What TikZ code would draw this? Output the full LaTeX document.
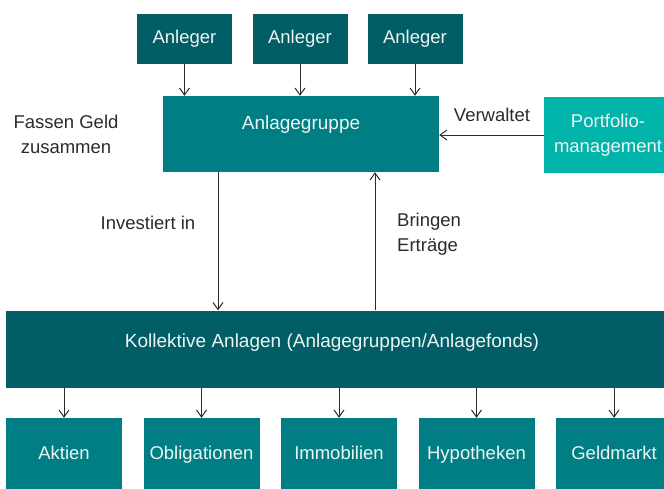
\documentclass[tikz,border=0pt]{standalone}
\usepackage{fontspec}
\setmainfont{Liberation Sans}
\usepackage{xcolor}
\usepackage{tikz}
\usetikzlibrary{calc,arrows.meta}
\definecolor{dark}{HTML}{015D66}
\definecolor{mid}{HTML}{017E83}
\definecolor{lite}{HTML}{00B4A9}
\definecolor{ink}{HTML}{2B2B2B}
\definecolor{wtxt}{HTML}{EDF5F5}
\tikzset{
  box/.style={inner sep=0pt, text=wtxt, font=\fontsize{18.5}{25}\selectfont, align=center},
  darkbox/.style={box, fill=dark},
  midbox/.style={box, fill=mid},
  litebox/.style={box, fill=lite},
  arr/.style={draw=ink, line width=1pt, -{Straight Barb[length=7pt,width=10pt]}},
  lab/.style={text=ink, font=\fontsize{18.5}{25}\selectfont, inner sep=0pt},
  wlab/.style={text=wtxt, font=\fontsize{19}{25}\selectfont, inner sep=0pt},
}

\begin{document}
\begin{tikzpicture}[x=1pt,y=-1pt]
  \useasboundingbox (0,0) rectangle (664,488);
  \clip (0,0) rectangle (664,488);
  % investors
  \foreach \i/\x in {1/184.5,2/300,3/415}
    \node[darkbox, minimum width=95, minimum height=50, text height=13pt, text depth=4pt] (anl\i) at (\x,38.5) {Anleger};
  \node[midbox, minimum width=276, minimum height=76] (grp) at (301,134) {};
  \node[wlab] at ([yshift=9pt]grp.center) {Anlagegruppe};
  \node[litebox, minimum width=128, minimum height=76] (pm) at (608,135) {Portfolio-\\management};
  \node[darkbox, minimum width=664, minimum height=77] (kol) at (338,349) {};
  \node[wlab] at ([xshift=-6pt,yshift=6pt]kol.center) {Kollektive Anlagen (Anlagegruppen/Anlagefonds)};
  % asset classes
  \foreach \i/\t in {0/Aktien,1/Obligationen,2/Immobilien,3/Hypotheken,4/Geldmarkt}
    \node[midbox, minimum width=116, minimum height=74, text height=13pt, text depth=4pt] (b\i) at ({64+\i*137.5},455) {\t};
  \foreach \i in {1,2,3}
    \draw[arr] (anl\i.south) -- (anl\i.south |- grp.north);
  \draw[arr] (pm.west) -- (pm.west -| grp.east);
  \draw[arr] ([xshift=-83pt]grp.south) -- ([xshift=-83pt]grp.south |- kol.north);
  \draw[arr] ([xshift=74pt]grp.south |- kol.north) -- ([xshift=74pt]grp.south);
  \foreach \i in {0,...,4}
    \draw[arr] (b\i.north |- kol.south) -- (b\i.north);
  % labels
  \node[lab] (verw) at (492,115) {Verwaltet};
  \node[lab, align=center] (fass) at (66,134.5) {Fassen Geld\\zusammen};
  \node[lab] (inv) at (148,223) {Investiert in};
  \node[lab, align=left, anchor=west] (bring) at (397,234.5) {Bringen\\Erträge};
\end{tikzpicture}
\end{document}
